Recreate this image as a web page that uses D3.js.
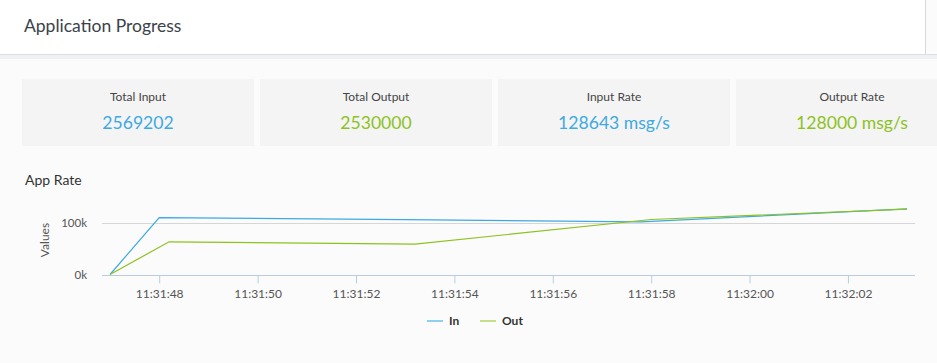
<!DOCTYPE html>
<html>
<head>
<meta charset="utf-8">
<script src="https://cdn.jsdelivr.net/npm/d3@7/dist/d3.min.js"></script>
<style>
  body { margin: 0; background: #fbfbfb; font-family: Lato, "Open Sans", sans-serif; }
  svg { display: block; }
</style>
</head>
<body>
<svg id="chart" width="937" height="363"></svg>
<script>
const cardLabels = ["Total Input", "Total Output", "Input Rate", "Output Rate"]
const cardValues = ["2569202", "2530000", "128643 msg/s", "128000 msg/s"]
const cardKinds = ["in", "out", "in", "out"]

const seriesNames = ["In", "Out"]
const inTimes = ["11:31:47.000", "11:31:48.000", "11:31:53.000", "11:31:57.800", "11:32:03.200"]
const inValues = [0, 111400, 107400, 103200, 128643]
const outTimes = ["11:31:47.000", "11:31:48.200", "11:31:53.200", "11:31:58.000", "11:32:03.200"]
const outValues = [0, 64000, 59400, 107800, 128000]
const yTicks = [0, 100000]

const width = 937,
  height = 363
const colors = { in: "#3ea9e2", out: "#8dc21f" }
const legendColors = { in: "#8fd0f0", out: "#c4e08a" }

const svg = d3.select("#chart")
const parse = d3.timeParse("%H:%M:%S.%L")

// Header
svg.append("rect").attr("x", 0).attr("y", 0).attr("width", 925).attr("height", 54).attr("fill", "#fff")
svg.append("rect").attr("x", 0).attr("y", 54).attr("width", width).attr("height", 5).attr("fill", "#eef1f2")
svg.append("line").attr("x1", 0).attr("x2", width).attr("y1", 54.5).attr("y2", 54.5).attr("stroke", "#dcdfe0")
svg.append("line").attr("x1", 925.5).attr("x2", 925.5).attr("y1", 0).attr("y2", 54).attr("stroke", "#d8d8d8")
svg.append("text").attr("x", 24).attr("y", 32).attr("font-size", 17.5).attr("fill", "#3a424b").text("Application Progress")

// Cards
const cardX = [22, 260, 498, 736],
  cardW = 232
const cards = svg
  .selectAll(".card")
  .data(cardLabels)
  .join("g")
  .attr("class", "card")
  .attr("transform", (d, i) => `translate(${cardX[i]},79)`)
cards.append("rect").attr("width", cardW).attr("height", 67).attr("fill", "#f4f4f4")
cards
  .append("text")
  .attr("x", cardW / 2)
  .attr("y", 22)
  .attr("text-anchor", "middle")
  .attr("font-size", 12)
  .attr("fill", "#444")
  .text((d) => d)
cards
  .append("text")
  .attr("x", cardW / 2)
  .attr("y", 49.5)
  .attr("text-anchor", "middle")
  .attr("font-size", 17.6)
  .attr("fill", (d, i) => colors[cardKinds[i]])
  .text((d, i) => cardValues[i])

svg.append("text").attr("x", 25).attr("y", 185).attr("font-size", 14).attr("fill", "#333").text("App Rate")

// Chart
const inData = inTimes.map((t, i) => ({ t: parse(t), v: inValues[i] }))
const outData = outTimes.map((t, i) => ({ t: parse(t), v: outValues[i] }))

const x = d3
  .scaleTime()
  .domain(d3.extent(inData.concat(outData), (d) => d.t))
  .range([110, 907])
const y = d3.scaleLinear().domain([0, 135000]).range([274.5, 205.6])
const left = x.range()[0] - 8,
  right = x.range()[1] + 8

// grid
svg
  .selectAll(".grid")
  .data(yTicks.filter((d) => d > 0))
  .join("line")
  .attr("x1", left)
  .attr("x2", right)
  .attr("y1", (d) => Math.round(y(d)) + 0.5)
  .attr("y2", (d) => Math.round(y(d)) + 0.5)
  .attr("stroke", "#d6d6d6")

svg
  .selectAll(".ytick")
  .data(yTicks)
  .join("text")
  .attr("x", 87)
  .attr("y", (d) => y(d) + 4)
  .attr("text-anchor", "end")
  .attr("font-size", 11.5)
  .attr("fill", "#555")
  .text((d) => d3.format("d")(d / 1000) + "k")

svg
  .append("text")
  .attr("transform", "translate(49,240) rotate(-90)")
  .attr("text-anchor", "middle")
  .attr("font-size", 12)
  .attr("fill", "#555")
  .text("Values")

// x axis
const xAxis = svg
  .append("g")
  .attr("transform", `translate(0,${Math.round(y(0)) + 0.5})`)
  .call(d3.axisBottom(x).ticks(d3.timeSecond.every(2)).tickFormat(d3.timeFormat("%H:%M:%S")).tickSize(8).tickSizeOuter(0))
xAxis.select(".domain").remove()
xAxis
  .append("line")
  .attr("x1", left)
  .attr("x2", right)
  .attr("stroke", "#b9cde2")
xAxis.selectAll(".tick line").attr("stroke", "#b9cde2")
xAxis
  .selectAll(".tick text")
  .attr("font-size", 12)
  .attr("font-family", "Lato, sans-serif")
  .attr("fill", "#555")
  .attr("dy", "0.95em")

// lines
const line = d3
  .line()
  .x((d) => x(d.t))
  .y((d) => y(d.v))
svg.append("path").datum(inData).attr("d", line).attr("fill", "none").attr("stroke", colors.in).attr("stroke-width", 1.2)
svg.append("path").datum(outData).attr("d", line).attr("fill", "none").attr("stroke", colors.out).attr("stroke-width", 1.2)

// legend
const legendX = [427, 480]
const legend = svg
  .selectAll(".legend")
  .data(seriesNames)
  .join("g")
  .attr("transform", (d, i) => `translate(${legendX[i]},321)`)
legend
  .append("line")
  .attr("x2", 16)
  .attr("stroke", (d, i) => legendColors[i ? "out" : "in"])
  .attr("stroke-width", 2)
legend
  .append("text")
  .attr("x", 22)
  .attr("y", 4)
  .attr("font-size", 12)
  .attr("font-weight", "bold")
  .attr("fill", "#333")
  .text((d) => d)
</script>
</body>
</html>
